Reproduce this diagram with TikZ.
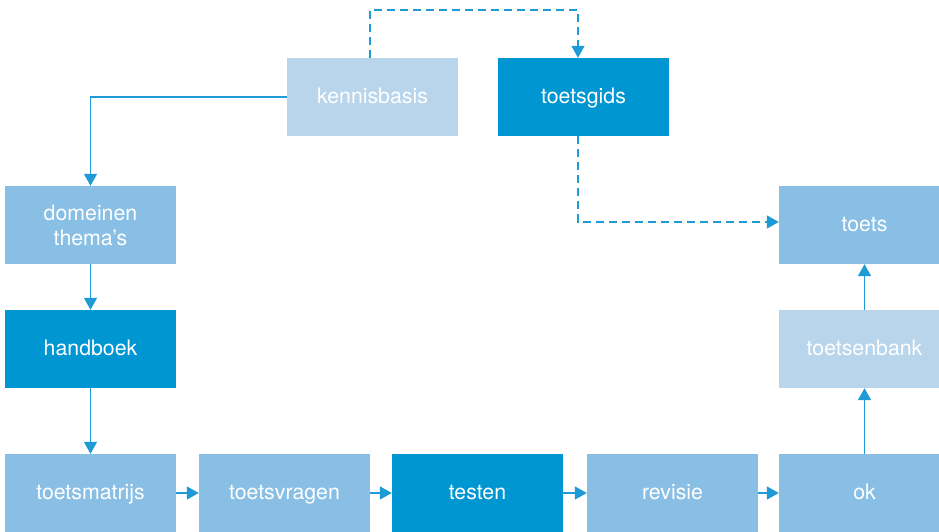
\documentclass[tikz,border=0pt]{standalone}
\usepackage{fontspec}
\setmainfont{TeX Gyre Heros}
\usetikzlibrary{arrows.meta,calc}
\definecolor{boxdark}{HTML}{0096D2}
\definecolor{boxmid}{HTML}{89BFE4}
\definecolor{boxlight}{HTML}{B8D5EC}
\definecolor{linkblue}{HTML}{1E9AD6}
\begin{document}
\begin{tikzpicture}[x=1pt,y=1pt,
  box/.style={minimum width=171pt,minimum height=78pt,inner sep=0pt,
    text=white,align=center,font=\fontsize{21.3}{25}\selectfont},
  oneline/.style={text height=16pt,text depth=2pt},
  dark/.style={box,oneline,fill=boxdark},
  mid/.style={box,oneline,fill=boxmid},
  light/.style={box,oneline,fill=boxlight},
  twoline/.style={box,fill=boxmid},
  link/.style={draw=linkblue,line width=1.5pt,
    -{Triangle[length=12pt,width=13pt]}},
  dashlink/.style={link,dash pattern=on 8pt off 5pt}]
\useasboundingbox (0,0) rectangle (939,532);
\clip (0,0) rectangle (939,532);

% top row
\node[light] (kennisbasis) at (372.5,435) {kennisbasis};
\node[dark]  (toetsgids)   at (583.5,435) {toetsgids};

% left column
\node[twoline] (domeinen) at (90.5,307) {domeinen\\thema’s};
\node[dark]    (handboek) at (90.5,183) {handboek};

% bottom row
\node[mid]  (toetsmatrijs) at (90.5,39)  {toetsmatrijs};
\node[mid]  (toetsvragen)  at (284.5,39) {toetsvragen};
\node[dark] (testen)       at (477.5,39) {testen};
\node[mid]  (revisie)      at (672.5,39) {revisie};
\node[mid]  (ok)           at (864.5,39) {ok};

% right column
\node[light] (toetsenbank) at (864.5,183) {toetsenbank};
\node[mid]   (toets)       at (864.5,307) {toets};

% helper points for the dashed routes
\coordinate (kbtop) at ($(kennisbasis.north)+(-2.5,0)$);
\coordinate (tgtop) at ($(toetsgids.north)+(-5.5,0)$);
\coordinate (tgbot) at ($(toetsgids.south)+(-5.5,0)$);
\coordinate (ttin)  at ($(toets.west)+(0,3)$);
\coordinate (bend)  at (0,522);

% solid connectors
\draw[link] (kennisbasis.west) -| (domeinen.north);
\draw[link] (domeinen) -- (handboek);
\draw[link] (handboek) -- (toetsmatrijs);
\draw[link] (toetsmatrijs) -- (toetsvragen);
\draw[link] (toetsvragen) -- (testen);
\draw[link] (testen) -- (revisie);
\draw[link] (revisie) -- (ok);
\draw[link] (ok) -- (toetsenbank);
\draw[link] (toetsenbank) -- (toets);

% dashed connectors
\draw[dashlink] (kbtop) -- (kbtop |- bend) -- (tgtop |- bend) -- (tgtop);
\draw[dashlink] (tgbot) |- (ttin);
\end{tikzpicture}
\end{document}
